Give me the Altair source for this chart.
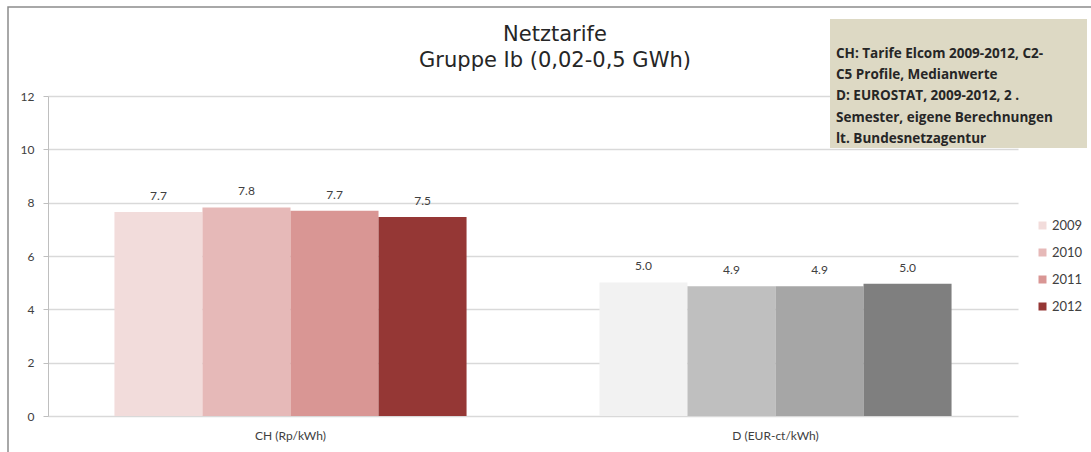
import altair as alt
import pandas as pd

categories = ["CH (Rp/kWh)", "D (EUR-ct/kWh)"]
years = ["2009", "2010", "2011", "2012"]
ch_values = [7.65, 7.82, 7.70, 7.46]
d_values = [5.01, 4.87, 4.87, 4.96]
ch_colors = ["#F2DCDB", "#E6B9B8", "#D99694", "#953735"]
d_colors = ["#F2F2F2", "#BFBFBF", "#A6A6A6", "#7F7F7F"]
title_lines = ["Netztarife", "Gruppe Ib (0,02-0,5 GWh)"]
note_lines = [
    "CH: Tarife Elcom 2009-2012, C2-",
    "C5 Profile, Medianwerte",
    "D: EUROSTAT, 2009-2012, 2 .",
    "Semester, eigene Berechnungen",
    "lt. Bundesnetzagentur",
]

rows = []
for cat, vals in zip(categories, [ch_values, d_values]):
    for y, v in zip(years, vals):
        rows.append({"cat": cat, "year": y, "value": v})
df = pd.DataFrame(rows)

W, H = 970, 320
FONT = "Lato"

x_enc = alt.X("cat:N", sort=categories, title=None,
              scale=alt.Scale(paddingInner=0.274, paddingOuter=0.137),
              axis=alt.Axis(labelAngle=0, ticks=False, domain=False, labelFont=FONT,
                            labelFontSize=12, labelColor="#404040", labelPadding=14,
                            grid=False))
xoff = alt.XOffset("year:N", sort=years, scale=alt.Scale(paddingInner=0, paddingOuter=0))
y_enc = alt.Y("value:Q", title=None,
              scale=alt.Scale(domain=[0, 12]),
              axis=alt.Axis(values=[0, 2, 4, 6, 8, 10, 12], format="d", labelFont=FONT,
                            labelFontSize=12, labelColor="#404040", tickSize=5,
                            tickColor="#BFBFBF", domainColor="#BFBFBF", labelPadding=9,
                            gridColor="#D9D9D9", gridWidth=1.3))

base = alt.Chart(df)

frame = alt.Chart(pd.DataFrame({"a": [0]})).mark_rect(
    fill=None, stroke="#8C8C8C", strokeWidth=1.5
).encode(x=alt.value(-40), x2=alt.value(1100), y=alt.value(-89), y2=alt.value(400))

ch_bars = base.transform_filter(alt.datum.cat == categories[0]).mark_bar().encode(
    x=x_enc, xOffset=xoff, y=y_enc,
    color=alt.Color("year:N", sort=years,
                    scale=alt.Scale(domain=years, range=ch_colors),
                    legend=alt.Legend(title=None, orient="none", legendX=988, legendY=123,
                                      symbolType="square", symbolSize=64,
                                      symbolStrokeWidth=0, rowPadding=13,
                                      labelFont=FONT, labelFontSize=13,
                                      labelColor="#404040", labelOffset=3)),
)
d_bars = base.transform_filter(alt.datum.cat == categories[1]).mark_bar().encode(
    x=x_enc, xOffset=xoff, y=y_enc,
    color=alt.Color("year:N", sort=years,
                    scale=alt.Scale(domain=years, range=d_colors), legend=None),
)
labels = base.mark_text(baseline="bottom", dy=-9, font=FONT, fontSize=12,
                        color="#404040").encode(
    x=x_enc, xOffset=xoff, y=y_enc, text=alt.Text("value:Q", format=".1f"))

box = alt.Chart(pd.DataFrame({"a": [0]})).mark_rect(fill="#DDD9C4").encode(
    x=alt.value(782), x2=alt.value(1039), y=alt.value(-77), y2=alt.value(52))
note = alt.Chart(pd.DataFrame({"t": [note_lines]})).mark_text(
    align="left", baseline="middle", font="Open Sans", fontSize=13.5, fontWeight="bold",
    lineHeight=21.2, color="#262626"
).encode(x=alt.value(788), y=alt.value(-42), text="t")

title = alt.Chart(pd.DataFrame({"t": [title_lines]})).mark_text(
    align="center", baseline="middle", font="DejaVu Sans", fontSize=21,
    lineHeight=26, color="#262626"
).encode(x=alt.value(507), y=alt.value(-61), text="t")

chart = alt.layer(frame, ch_bars, d_bars, labels, box, note, title).resolve_scale(
    color="independent"
).properties(
    width=W, height=H,
    autosize=alt.AutoSizeParams(type="none"),
    padding={"left": 48, "top": 96, "right": 73, "bottom": 36},
    background="white",
).configure_view(stroke=None)

chart.save("out.html", embed_options={"renderer": "svg", "actions": False})
